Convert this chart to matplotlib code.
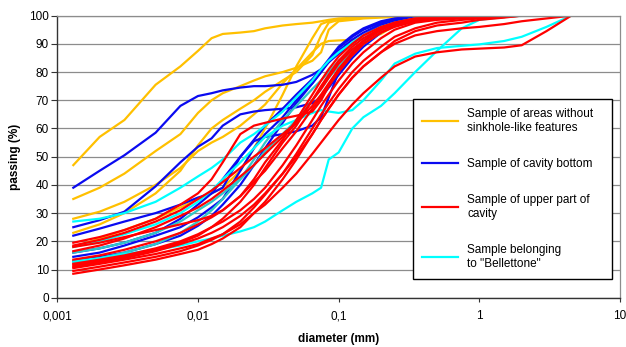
#!/usr/bin/env python3
"""Grain-size distribution curves (passing % vs diameter) for the four sample groups."""
import matplotlib

matplotlib.use("Agg")
import matplotlib.pyplot as plt
from matplotlib.lines import Line2D

# sieve / hydrometer diameters (mm) shared by every curve
diam = [0.0013, 0.002, 0.003, 0.005, 0.0075, 0.01, 0.0125, 0.015, 0.02, 0.025,
        0.03, 0.04, 0.05, 0.065, 0.075, 0.085, 0.1, 0.125, 0.15, 0.2,
        0.25, 0.35, 0.5, 0.75, 1, 1.5, 2, 3, 4.5]

# passing (%) per sample, one list per curve
yellow = [
    [47, 57, 63, 75.5, 82, 87.5, 92, 93.5, 94, 94.5, 95.5, 96.5, 97, 97.5, 98, 98.5, 99, 99.2, 99.4, 99.6,
     99.8, 100, 100, 100, 100, 100, 100, 100, 100],
    [35, 39, 44, 52, 58, 65.5, 70, 72.5, 75, 77, 78.5, 80, 81.5, 84, 87, 95, 98, 98.5, 99, 99.3,
     99.5, 99.8, 100, 100, 100, 100, 100, 100, 100],
    [28, 30.5, 34, 40, 46, 52, 55, 57, 61, 65, 68.5, 76, 81, 87, 90, 91, 91.2, 91.4, 91.8, 93.5,
     96.5, 98.5, 99.5, 100, 100, 100, 100, 100, 100],
    [23, 26, 30, 37, 45, 54, 60, 63, 67, 70, 73, 77, 80, 86, 93, 97.5, 98.5, 99, 99.3, 99.6,
     99.8, 100, 100, 100, 100, 100, 100, 100, 100],
    [18, 21, 24, 28, 32, 35, 37, 39, 45, 53, 60, 72, 82, 92, 97, 98, 98.5, 99, 99.3, 99.6,
     99.8, 100, 100, 100, 100, 100, 100, 100, 100],
]
blue = [
    [39, 45, 50.5, 58.5, 68, 71.5, 72.5, 73.5, 74.5, 75, 75, 75.5, 76.5, 79, 81, 83.5, 86.5, 90, 93, 96.5,
     98, 99.3, 99.8, 100, 100, 100, 100, 100, 100],
    [25, 27.5, 30.5, 39.5, 48, 53.5, 56.5, 61, 65, 66, 66.5, 67, 67.5, 69, 71, 74.5, 79, 85, 89, 94,
     97, 99, 99.7, 100, 100, 100, 100, 100, 100],
    [22, 24.5, 27, 30, 33, 35.5, 37, 39, 50, 55.5, 57, 58, 59, 61, 64, 71, 80, 87, 91, 95.5,
     97.5, 99.2, 99.8, 100, 100, 100, 100, 100, 100],
    [14.5, 16, 18.5, 22, 25, 28.5, 32, 35, 45, 53, 58, 64, 70, 76, 80, 83.5, 87.5, 91.5, 94, 97,
     98.5, 99.5, 100, 100, 100, 100, 100, 100, 100],
    [13, 14.5, 16, 19, 22, 25.5, 29, 33, 40, 47, 53, 62, 69, 76, 80, 84, 88.5, 92.5, 95, 97.5,
     98.8, 99.6, 100, 100, 100, 100, 100, 100, 100],
    [16, 17.5, 19.5, 23, 28, 33, 37, 42, 50, 56, 61, 67, 72, 77.5, 81, 84.5, 89, 93, 95.5, 98,
     99, 99.7, 100, 100, 100, 100, 100, 100, 100],
]
red = [
    [19.5, 21.5, 24, 28, 33, 37, 42, 48, 58, 61, 62, 63.5, 64.5, 66, 70, 75, 81, 87, 91, 95,
     97, 98.5, 99.3, 99.6, 99.8, 100, 100, 100, 100],
    [18.5, 20.5, 23, 27, 31, 35, 38, 41, 46, 50, 53, 58, 62, 68, 72, 76, 81, 86, 90, 94,
     96, 98, 99, 99.5, 99.7, 99.8, 99.9, 100, 100],
    [16.5, 18.5, 21, 25, 29, 32, 35, 38, 43, 47, 51, 57, 62, 70, 74, 78, 83, 88, 91, 95,
     97, 98.5, 99.3, 99.6, 99.8, 99.9, 100, 100, 100],
    [13.5, 15, 17, 20, 23, 26, 28.5, 31, 36, 41, 45, 53, 59, 67, 71, 75, 80, 86, 90, 94,
     96.5, 98, 99, 99.5, 99.7, 99.8, 100, 100, 100],
    [12, 13.5, 15, 17.5, 20, 22.5, 25, 27, 31, 35, 39, 47, 54, 63, 68, 72, 77, 83, 87, 92,
     95, 97.5, 98.5, 99, 99.5, 99.7, 100, 100, 100],
    [11, 12.5, 14, 16.5, 19, 21, 23, 25, 29, 33, 37, 44, 50, 58, 63, 67, 72, 78, 82, 87,
     90, 93, 94.5, 95.5, 96, 97, 98, 99, 100],
    [10.5, 12, 13.5, 15.5, 17.5, 19, 21, 22.5, 26, 30, 33, 39, 44, 51, 55, 58.5, 63, 68.5, 72.5, 78,
     82, 85.5, 87, 88, 88.3, 88.7, 89.5, 94.5, 100],
    [9.5, 11, 12.5, 14.5, 16.5, 18.5, 20.5, 22.5, 27, 32, 36.5, 44, 51, 60, 65, 69, 74, 80, 84, 89,
     92.5, 95.5, 97.5, 98.5, 99, 99.5, 100, 100, 100],
    [8.5, 10, 11.5, 13.5, 15.5, 17, 19, 21, 25, 30, 34, 42, 49, 58, 63, 67, 72, 78, 82, 87,
     91, 94.5, 96.5, 97.5, 98.5, 99.3, 100, 100, 100],
    [18, 19.5, 21.5, 24, 26, 27.5, 29, 31, 36, 42, 48, 56, 63, 72, 77, 81, 85.5, 90, 93, 96,
     97.5, 99, 99.5, 99.8, 100, 100, 100, 100, 100],
    [11.5, 13, 14.5, 17, 19.5, 22, 25, 28, 34, 40, 46, 55, 61, 70, 75, 79, 84, 89, 92, 95.5,
     97.5, 99, 99.5, 99.8, 100, 100, 100, 100, 100],
]
cyan = [
    [13, 14, 15.5, 17, 18.5, 20, 21, 22, 23.5, 25, 27, 31, 34, 37, 39, 49, 51.5, 60, 64, 68,
     72.5, 80, 87.5, 95.5, 98.5, 99.5, 100, 100, 100],
    [18, 20, 22.5, 26, 30, 34, 38, 42, 48, 53, 57, 61, 63, 65.5, 66.5, 66, 65.5, 66.5, 70, 77,
     83, 86.5, 88.5, 89.3, 89.8, 91, 92.5, 96, 100],
    [27, 28, 30, 34, 39, 43, 46, 49, 55, 58, 61, 66, 71, 77, 81, 84, 87, 90.5, 93, 96,
     97.5, 99, 99.5, 100, 100, 100, 100, 100, 100],
]
teal = [
    [16, 17.5, 19.5, 23, 27, 31, 34, 37, 42, 47, 52, 58, 63, 70, 74, 78, 82, 87, 90, 94,
     96.5, 98, 99, 99.5, 100, 100, 100, 100, 100],
    [12.5, 14, 16, 19, 23, 27, 31, 35, 42, 49, 55, 63, 68, 74, 77, 80, 84, 88, 91, 94.5,
     96.5, 98, 99, 99.5, 100, 100, 100, 100, 100],
]

labels = ["Sample of areas without\nsinkhole-like features",
          "Sample of cavity bottom",
          "Sample of upper part of\ncavity",
          "Sample belonging\nto \"Bellettone\""]
xticks = [0.001, 0.01, 0.1, 1, 10]
xticklabels = ["0,001", "0,01", "0,1", "1", "10"]

C_YEL, C_BLU, C_RED, C_CYA, C_TEAL = "#FFC000", "#0A0AF0", "#FF0000", "#00FFFF", "#2EC8C8"
GRID = "#8C8C8C"
LW = 1.6

plt.rcParams["font.family"] = ["Liberation Sans", "DejaVu Sans"]
plt.rcParams["font.size"] = 8.5

fig = plt.figure(figsize=(6.26, 3.47), dpi=100)
ax = fig.add_axes([0.0915, 0.142, 0.899, 0.813])

for p in yellow:
    ax.plot(diam, p, color=C_YEL, lw=LW)
for p in blue:
    ax.plot(diam, p, color=C_BLU, lw=LW)
for p in teal:
    ax.plot(diam, p, color=C_TEAL, lw=LW)
for p in cyan:
    ax.plot(diam, p, color=C_CYA, lw=LW)
for p in red:
    ax.plot(diam, p, color=C_RED, lw=LW)

ax.set_xscale("log")
ax.set_xlim(0.001, 10)
ax.set_ylim(0, 100)
ax.set_xticks(xticks)
ax.set_xticklabels(xticklabels)
ax.minorticks_off()
ax.set_yticks(range(0, 101, 10))
ax.tick_params(axis="x", length=3, pad=6, color="#333333")
ax.tick_params(axis="y", length=4, pad=2, color="#333333")
ax.grid(axis="y", color=GRID, lw=0.9)
ax.set_axisbelow(True)
for side in ("left", "bottom"):
    ax.spines[side].set_color("#333333")
    ax.spines[side].set_linewidth(1.0)
for side in ("top", "right"):
    ax.spines[side].set_color(GRID)
    ax.spines[side].set_linewidth(0.9)

ax.set_xlabel("diameter (mm)", fontweight="bold", labelpad=8)
ax.set_ylabel("passing (%)", fontweight="bold", labelpad=6)

# legend box placed where the original sits (pixel coordinates of a 626x347 canvas)
handles = [Line2D([], [], color=c, lw=LW) for c in (C_YEL, C_BLU, C_RED, C_CYA)]
leg = ax.legend(handles, labels, loc="upper left", mode="expand",
                bbox_to_anchor=(413 / 626, 1 - 283 / 347, 199 / 626, 184 / 347),
                bbox_transform=fig.transFigure, borderaxespad=0,
                fancybox=False, framealpha=1, edgecolor="black",
                handlelength=3.1, handletextpad=0.75,
                labelspacing=2.05, borderpad=0.75, fontsize=8.5)
leg.get_frame().set_linewidth(1.0)

fig.savefig("out.png", dpi=100)
